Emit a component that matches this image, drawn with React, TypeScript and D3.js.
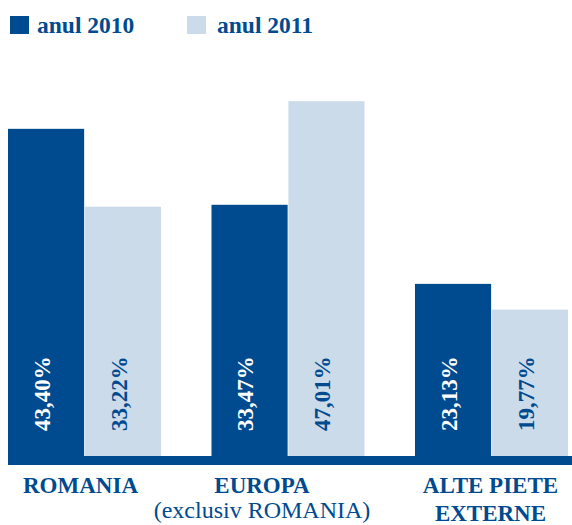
import React from "react";
import * as d3 from "d3";

const categories = ["ROMANIA", "EUROPA", "ALTE PIETE EXTERNE"];
const categoryLines: string[][] = [["ROMANIA"], ["EUROPA"], ["ALTE PIETE", "EXTERNE"]];
const subLines: string[][] = [[], ["(exclusiv ROMANIA)"], []];
const series = ["anul 2010", "anul 2011"];
const values2010 = [43.4, 33.47, 23.13];
const values2011 = [33.22, 47.01, 19.77];
const labels2010 = ["43,40%", "33,47%", "23,13%"];
const labels2011 = ["33,22%", "47,01%", "19,77%"];

const W = 572;
const H = 525;
const DARK = "#004a8f";
const LIGHT = "#cbdbea";
const FONT = "'Liberation Serif', 'Times New Roman', serif";
const labelDx = [-4, -26, -1];

export default function App() {
  const x0 = d3.scaleBand<string>().domain(categories).range([8, 568]).paddingInner(0.248).paddingOuter(0);
  const x1 = d3.scaleBand<string>().domain(series).range([0, x0.bandwidth()]).paddingInner(0.01);
  const y = d3.scaleLinear().domain([0, 50]).range([460.8, 78.35]);
  const colors = [DARK, LIGHT];
  const textColors = ["#ffffff", DARK];
  const vals = [values2010, values2011];
  const labs = [labels2010, labels2011];

  return (
    <svg width={W} height={H} style={{ position: "absolute", left: 0, top: 0, background: "#fff" }} fontFamily={FONT}>
      {/* legend */}
      {series.map((s, i) => (
        <g key={s} transform={`translate(${i === 0 ? 10 : 187},16)`}>
          <rect width={19} height={18} fill={colors[i]} />
          <text x={i === 0 ? 27 : 30} y={16.5} fontSize={23.5} fontWeight="bold" fill={DARK}>{s}</text>
        </g>
      ))}
      {/* bars */}
      {categories.map((c, ci) => (
        <g key={c} transform={`translate(${x0(c)},0)`}>
          {series.map((s, si) => {
            const v = vals[si][ci];
            const bx = x1(s)!;
            const bw = x1.bandwidth();
            return (
              <g key={s}>
                <rect x={bx} y={y(v)} width={bw} height={y(0) - y(v)} fill={colors[si]} />
                <text
                  transform={`translate(${bx + bw / 2},431) rotate(-90)`}
                  dy="0.17em"
                  fontSize={23}
                  fontWeight="bold"
                  fill={textColors[si]}
                >{labs[si][ci]}</text>
              </g>
            );
          })}
        </g>
      ))}
      {/* baseline band */}
      <rect x={x0.range()[0]} y={456} width={W - x0.range()[0]} height={9} fill={DARK} />
      {/* category labels */}
      {categories.map((c, ci) => {
        const cx = x0(c)! + x0.bandwidth() / 2 + labelDx[ci];
        return (
          <g key={c}>
            {categoryLines[ci].map((ln, li) => (
              <text key={ln} x={cx} y={493 + li * 28} textAnchor="middle" fontSize={23} fontWeight="bold" fill={DARK}>{ln}</text>
            ))}
            {subLines[ci].map((ln, li) => (
              <text key={ln} x={cx} y={518 + li * 26} textAnchor="middle" fontSize={24} fill={DARK}>{ln}</text>
            ))}
          </g>
        );
      })}
    </svg>
  );
}
